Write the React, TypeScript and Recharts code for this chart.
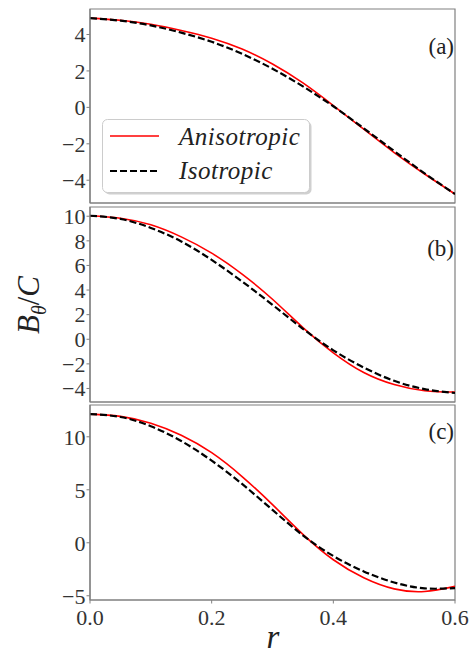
import React from 'react';
import { LineChart, Line, XAxis, YAxis, ReferenceArea } from 'recharts';

// radius samples shared by all three panels
const rValues = [0, 0.05, 0.1, 0.15, 0.2, 0.25, 0.3, 0.35, 0.4, 0.45, 0.5, 0.55, 0.6];

// panel (a)
const anisoA = [4.9, 4.78, 4.56, 4.22, 3.8, 3.2, 2.38, 1.34, 0.1, -1.2, -2.48, -3.66, -4.76];
const isoA = [4.9, 4.76, 4.5, 4.1, 3.6, 2.94, 2.12, 1.15, 0.06, -1.15, -2.4, -3.62, -4.76];
// panel (b)
const anisoB = [10.04, 9.84, 9.3, 8.32, 7.0, 5.3, 3.25, 0.95, -1.1, -2.7, -3.68, -4.18, -4.29];
const isoB = [10.04, 9.78, 9.05, 7.95, 6.45, 4.7, 2.8, 0.85, -0.9, -2.3, -3.38, -4.05, -4.37];
// panel (c)
const anisoC = [12.14, 11.93, 11.28, 10.15, 8.5, 6.25, 3.6, 0.8, -1.6, -3.3, -4.35, -4.6, -4.11];
const isoC = [12.14, 11.87, 11.0, 9.6, 7.75, 5.55, 3.1, 0.7, -1.25, -2.7, -3.75, -4.3, -4.27];

const xTicks = [0, 0.2, 0.4, 0.6];
const yTicksA = [-4, -2, 0, 2, 4];
const yTicksB = [-4, -2, 0, 2, 4, 6, 8, 10];
const yTicksC = [-5, 0, 5, 10];

const FONT = '"Liberation Serif", "DejaVu Serif", serif';
const FRAME = '#808080';
const TICK_STYLE = { fontSize: 22, fill: '#333', fontFamily: FONT };

const toRows = (aniso: number[], iso: number[]) =>
  rValues.map((r, i) => ({ r, aniso: aniso[i], iso: iso[i] }));

const fmtY = (v: number) => (v < 0 ? '\u2212' + Math.abs(v) : String(v));

// legend box of panel (a), drawn over the chart like matplotlib's framed legend
const LegendBox = () => (
  <svg width={212} height={78} style={{ position: 'absolute', left: 102, top: 119, overflow: 'visible' }}>
    <rect x={2.5} y={2.5} width={207} height={73} rx={5} fill="#b0b0b0" opacity={0.6} />
    <rect x={0.5} y={0.5} width={207} height={73} rx={5} fill="#fff" stroke="#cccccc" />
    <line x1={8} y1={17} x2={57} y2={17} stroke="#ff0000" strokeWidth={1.6} />
    <text x={77} y={26} fontFamily={FONT} fontStyle="italic" fontSize={25} fill="#222" letterSpacing={0.5}>
      Anisotropic
    </text>
    <line x1={8} y1={52} x2={57} y2={52} stroke="#000" strokeWidth={2.2} strokeDasharray="7 3" />
    <text x={77} y={60} fontFamily={FONT} fontStyle="italic" fontSize={25} fill="#222" letterSpacing={0.5}>
      Isotropic
    </text>
  </svg>
);

interface PanelProps {
  top: number;
  plotH: number;
  bottomH: number;
  aniso: number[];
  iso: number[];
  domain: [number, number];
  yTicks: number[];
  showXLabels?: boolean;
}

const Panel: React.FC<PanelProps> = ({ top, plotH, bottomH, aniso, iso, domain, yTicks, showXLabels }) => {
  const data = toRows(aniso, iso);
  return (
    <div style={{ position: 'absolute', left: 0, top }}>
      <LineChart width={475} height={10 + plotH + bottomH} data={data} margin={{ top: 10, right: 20, bottom: 0, left: 0 }}>
        <XAxis
          dataKey="r"
          type="number"
          domain={[0, 0.6]}
          ticks={xTicks}
          interval={0}
          allowDataOverflow
          height={bottomH}
          axisLine={{ stroke: FRAME, strokeWidth: 1.2 }}
          tickLine={{ stroke: FRAME }}
          tickSize={3.5}
          tickMargin={6}
          tick={showXLabels ? TICK_STYLE : false}
          tickFormatter={(v: number) => v.toFixed(1)}
        />
        <YAxis
          type="number"
          domain={domain}
          ticks={yTicks}
          interval={0}
          allowDataOverflow
          width={90}
          axisLine={{ stroke: FRAME, strokeWidth: 1.2 }}
          tickLine={{ stroke: FRAME }}
          tickSize={3.5}
          tickMargin={1}
          tick={TICK_STYLE}
          tickFormatter={fmtY}
        />
        <ReferenceArea
          x1={0}
          x2={0.6}
          y1={domain[0]}
          y2={domain[1]}
          fill="none"
          stroke={FRAME}
          strokeWidth={1.2}
          ifOverflow="visible"
        />
        <Line
          type="natural"
          dataKey="aniso"
          stroke="#ff0000"
          strokeWidth={1.6}
          dot={false}
          isAnimationActive={false}
        />
        <Line
          type="natural"
          dataKey="iso"
          stroke="#000000"
          strokeWidth={2.2}
          strokeDasharray="7 3"
          dot={false}
          isAnimationActive={false}
        />
      </LineChart>
    </div>
  );
};

const panelLabel = (text: string, centerY: number) => (
  <div
    style={{
      position: 'absolute',
      right: 475 - 454,
      top: centerY - 14,
      fontFamily: FONT,
      fontSize: 23,
      lineHeight: '28px',
      color: '#222',
    }}
  >
    {text}
  </div>
);

export default function App() {
  return (
    <div style={{ position: 'absolute', left: 0, top: 0, width: 475, height: 655, background: '#fff', overflow: 'hidden' }}>
      <Panel top={-1} plotH={194} bottomH={10} aniso={anisoA} iso={isoA} domain={[-5.25, 5.4]} yTicks={yTicksA} />
      <Panel top={197} plotH={195} bottomH={10} aniso={anisoB} iso={isoB} domain={[-5.1, 10.75]} yTicks={yTicksB} />
      <Panel top={395} plotH={195} bottomH={40} aniso={anisoC} iso={isoC} domain={[-5.4, 13.0]} yTicks={yTicksC} showXLabels />
      <LegendBox />
      {panelLabel('(a)', 47)}
      {panelLabel('(b)', 249)}
      {panelLabel('(c)', 432)}
      <div
        style={{
          position: 'absolute',
          left: 31,
          top: 305,
          transform: 'translate(-50%, -50%) rotate(-90deg)',
          fontFamily: FONT,
          fontSize: 31,
          color: '#222',
          whiteSpace: 'nowrap',
        }}
      >
        <i>B</i>
        <sub style={{ fontSize: 20 }}>
          <i>θ</i>
        </sub>
        /<i>C</i>
      </div>
      <div
        style={{
          position: 'absolute',
          left: 273,
          top: 637,
          transform: 'translate(-50%, -50%)',
          fontFamily: FONT,
          fontSize: 33,
          lineHeight: '30px',
          fontStyle: 'italic',
          color: '#222',
        }}
      >
        r
      </div>
    </div>
  );
}
